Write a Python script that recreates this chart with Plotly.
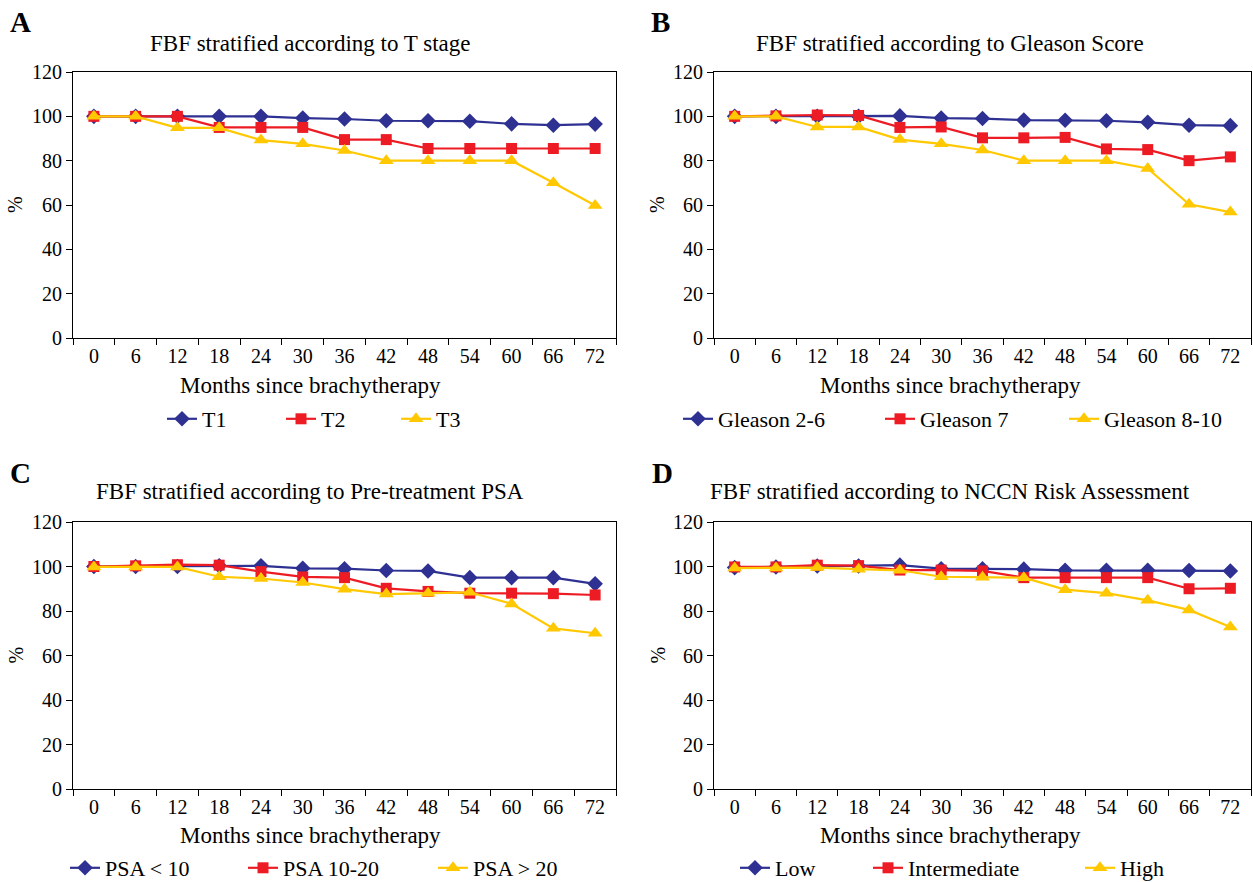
import plotly.graph_objects as go

months = ["0", "6", "12", "18", "24", "30", "36", "42", "48", "54", "60", "66", "72"]

# Panel A: T stage
t1 = [100, 100, 100, 100, 100, 99.2, 98.8, 98, 98, 97.8, 96.6, 96, 96.5]
t2 = [100, 100, 100, 95, 95, 95, 89.5, 89.5, 85.5, 85.5, 85.5, 85.5, 85.5]
t3 = [100, 100, 94.8, 94.8, 89.3, 87.6, 84.6, 80, 80, 80, 80, 70, 59.8]

# Panel B: Gleason score
g26 = [100, 100, 100, 100, 100.2, 99.2, 99, 98.3, 98.2, 98, 97.3, 96, 95.8]
g7 = [100, 100.2, 100.6, 100.4, 95, 95.2, 90.3, 90.3, 90.5, 85.3, 85, 80, 81.7]
g810 = [100, 100, 95.2, 95.2, 89.5, 87.6, 84.8, 80, 80, 80, 76.5, 60.3, 56.8]

# Panel C: Pre-treatment PSA
psa_lt10 = [100, 100, 100, 100.3, 100.3, 99.2, 99, 98.2, 98, 95, 95, 95, 92.2]
psa_10_20 = [100, 100.3, 100.8, 100.6, 97.7, 95.3, 95, 90.2, 88.8, 88, 88, 87.8, 87.2]
psa_gt20 = [99.8, 99.8, 99.8, 95.4, 94.6, 92.8, 89.8, 87.6, 88, 88.4, 83.2, 72.2, 70]

# Panel D: NCCN risk
low = [99.5, 99.8, 100.2, 100.2, 100.6, 99, 99, 98.8, 98.3, 98.3, 98.3, 98.2, 98]
intermediate = [99.8, 99.8, 100.6, 100.4, 98.4, 98.4, 98, 95, 95, 95, 95, 90, 90.2]
high = [99.3, 99.3, 99.5, 98.8, 98.3, 95.4, 95.2, 95, 89.6, 88, 84.8, 80.5, 72.8]

panels = [
    ("A", "FBF stratified according to T stage", ["T1", "T2", "T3"], [t1, t2, t3]),
    ("B", "FBF stratified according to Gleason Score", ["Gleason 2-6", "Gleason 7", "Gleason 8-10"], [g26, g7, g810]),
    ("C", "FBF stratified according to Pre-treatment PSA", ["PSA < 10", "PSA 10-20", "PSA > 20"], [psa_lt10, psa_10_20, psa_gt20]),
    ("D", "FBF stratified according to NCCN Risk Assessment", ["Low", "Intermediate", "High"], [low, intermediate, high]),
]

colors = ["#2E3192", "#ED1C24", "#FFC800"]
symbols = ["diamond", "square", "triangle-up"]
msizes = [12, 11, 13]

W, H = 1253, 882
FONT = "Liberation Serif"

# pixel geometry of panels
geo = [
    (73, 616, 72, 338, 310, 20, 22, 43, 385, 419, [163, 282, 397], 15),
    (714, 1251, 72, 338, 950, 660, 22, 43, 385, 419, [679, 881, 1065], 657),
    (73, 616, 522, 789, 310, 20, 473, 492, 835, 868, [66, 244, 434], 15),
    (714, 1251, 522, 789, 950, 662, 473, 492, 835, 868, [736, 869, 1081], 657),
]

fig = go.Figure()
layout = dict(width=W, height=H, margin=dict(l=0, r=0, t=0, b=0, autoexpand=False),
              paper_bgcolor="white", plot_bgcolor="white",
              font=dict(family=FONT, color="black", size=20))
annotations = []
legend_idx = 0
for p, (letter, title, names, series) in enumerate(panels):
    L, R, T, B, cx, lx, ly, ty, xty, legy, legx, pctx = geo[p]
    n = p + 1
    xa = "x" if n == 1 else f"x{n}"
    ya = "y" if n == 1 else f"y{n}"
    for k in range(3):
        legend_idx += 1
        lname = "legend" if legend_idx == 1 else f"legend{legend_idx}"
        fig.add_trace(go.Scatter(
            x=months, y=series[k], name=names[k], mode="lines+markers",
            line=dict(color=colors[k], width=2.2),
            marker=dict(symbol=symbols[k], size=msizes[k], color=colors[k]),
            xaxis=xa, yaxis=ya, legend=lname, showlegend=True))
        layout[lname] = dict(orientation="h", x=(legx[k] - 1) / W, xanchor="left",
                             y=1 - legy / H, yanchor="middle",
                             font=dict(size=22, family=FONT), bgcolor="rgba(0,0,0,0)",
                             borderwidth=0, itemwidth=30)
    layout[f"xaxis{n}" if n > 1 else "xaxis"] = dict(
        domain=[L / W, R / W], anchor=ya, type="category", range=[-0.5, 12.5],
        tickson="boundaries", ticks="outside", ticklen=6, tickcolor="black",
        showline=True, linecolor="black", linewidth=1.2, mirror=True,
        showgrid=False, zeroline=False, tickfont=dict(size=20, family=FONT))
    layout[f"yaxis{n}" if n > 1 else "yaxis"] = dict(
        domain=[1 - B / H, 1 - T / H], anchor=xa, range=[0, 120], dtick=20, tick0=0,
        ticks="outside", ticklen=6, tickcolor="black",
        showline=True, linecolor="black", linewidth=1.2, mirror=True,
        showgrid=False, zeroline=False, tickfont=dict(size=20, family=FONT))
    annotations.append(dict(text=f"<b>{letter}</b>", x=lx / W, y=1 - ly / H, xref="paper", yref="paper",
                            xanchor="center", yanchor="middle", showarrow=False,
                            font=dict(size=29, family=FONT)))
    annotations.append(dict(text=title, x=cx / W, y=1 - ty / H, xref="paper", yref="paper",
                            xanchor="center", yanchor="middle", showarrow=False,
                            font=dict(size=23, family=FONT)))
    annotations.append(dict(text="Months since brachytherapy", x=cx / W, y=1 - xty / H, xref="paper", yref="paper",
                            xanchor="center", yanchor="middle", showarrow=False,
                            font=dict(size=23, family=FONT)))
    annotations.append(dict(text="%", x=pctx / W, y=1 - ((T + B) / 2) / H, xref="paper", yref="paper",
                            xanchor="center", yanchor="middle", showarrow=False, textangle=-90,
                            font=dict(size=20, family=FONT)))

layout["annotations"] = annotations
fig.update_layout(**layout)
fig.write_html("out.html", config={"displayModeBar": False},
               post_script="document.body.style.margin='0px';")
